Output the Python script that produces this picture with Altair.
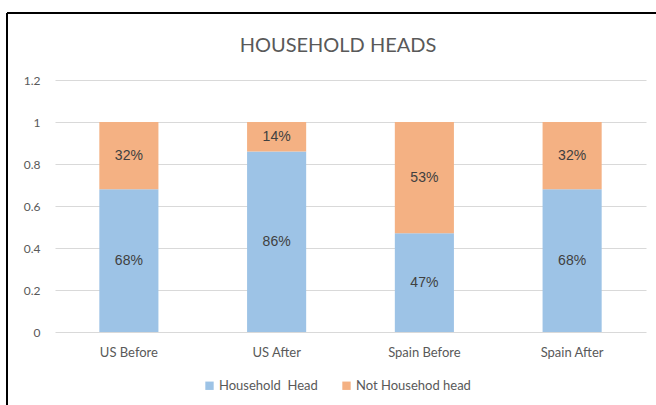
import altair as alt
import pandas as pd

categories = ["US Before", "US After", "Spain Before", "Spain After"]
series = ["Household\u00a0 Head", "Not Househod head"]
household_head = [0.68, 0.86, 0.47, 0.68]
not_household_head = [0.32, 0.14, 0.53, 0.32]
colors = ["#9DC3E6", "#F4B183"]
y_ticks = [0, 0.2, 0.4, 0.6, 0.8, 1, 1.2]
title_text = "HOUSEHOLD HEADS"

rows = []
for i, c in enumerate(categories):
    rows.append({"cat": c, "series": series[0], "value": household_head[i], "ord": 0})
    rows.append({"cat": c, "series": series[1], "value": not_household_head[i], "ord": 1})
df = pd.DataFrame(rows)

FONT = "Lato"
GREY = "#595959"

base = alt.Chart(df).transform_stack(
    stack="value", groupby=["cat"], as_=["y0", "y1"], sort=[alt.SortField("ord", order="ascending")]
).transform_calculate(
    mid="(datum.y0 + datum.y1) / 2",
    label="format(datum.value, '.0%')",
)

xenc = alt.X(
    "cat:N",
    sort=categories,
    title=None,
    scale=alt.Scale(paddingInner=0.6, paddingOuter=0.3),
    axis=alt.Axis(labelAngle=0, domain=False, ticks=False, labelPadding=14,
                  labelFont=FONT, labelFontSize=13, labelColor=GREY),
)

bars = base.mark_bar().encode(
    x=xenc,
    y=alt.Y("y0:Q", scale=alt.Scale(domain=[0, 1.2], nice=False), title=None,
            axis=alt.Axis(values=y_ticks, domain=False, ticks=False, labelPadding=15,
                          gridColor="#D9D9D9", gridWidth=1,
                          labelFont=FONT, labelFontSize=12, labelColor=GREY,
                          labelExpr="format(datum.value, '.1~f')")),
    y2="y1:Q",
    color=alt.Color("series:N", scale=alt.Scale(domain=series, range=colors),
                    legend=alt.Legend(title=None, orient="none", direction="horizontal",
                                      legendX=148, legendY=299, symbolType="square",
                                      symbolSize=70, symbolStrokeWidth=0,
                                      labelFont=FONT, labelFontSize=13, labelColor=GREY,
                                      columnPadding=22, symbolOffset=0, labelOffset=3)),
    order=alt.Order("ord:Q"),
)

texts = base.mark_text(font="Liberation Sans", fontSize=14, color="#404040", baseline="middle").encode(
    x=alt.X("cat:N", sort=categories),
    y=alt.Y("mid:Q"),
    text="label:N",
)

title_mark = alt.Chart(pd.DataFrame({"t": [title_text]})).mark_text(
    font=FONT, fontSize=20, color=GREY, baseline="middle", align="center"
).encode(x=alt.value(283), y=alt.value(-34), text="t:N")

border_left = alt.Chart(df).mark_rule(color="black", strokeWidth=2).encode(
    x=alt.value(-48), y=alt.value(-67), y2=alt.value(340)
)
border_top = alt.Chart(df).mark_rule(color="black", strokeWidth=2).encode(
    x=alt.value(-48), x2=alt.value(620), y=alt.value(-67)
)

chart = alt.layer(bars, texts, title_mark, border_left, border_top).properties(
    width=591,
    height=252,
    padding={"left": 55, "top": 80, "right": 10, "bottom": 73},
    autosize=alt.AutoSizeParams(type="none"),
    background="white",
).configure_view(stroke=None)

chart.save("out.html", embed_options={"renderer": "svg", "actions": False})
